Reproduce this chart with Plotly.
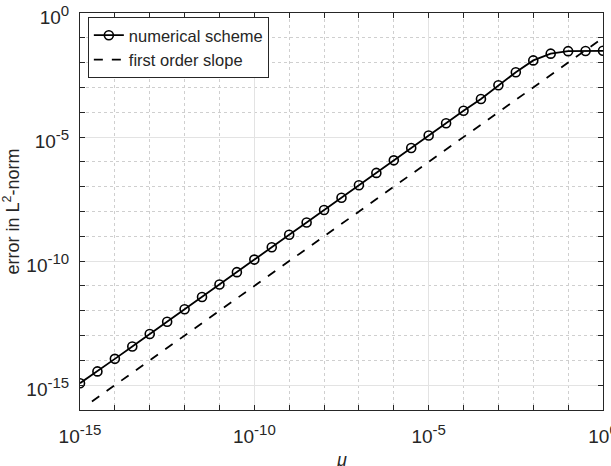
import plotly.graph_objects as go

# step size values (every half decade from 1e-15 to 1)
h = [1e-15, 3.16e-15, 1e-14, 3.16e-14, 1e-13, 3.16e-13, 1e-12, 3.16e-12,
     1e-11, 3.16e-11, 1e-10, 3.16e-10, 1e-9, 3.16e-9, 1e-8, 3.16e-8,
     1e-7, 3.16e-7, 1e-6, 3.16e-6, 1e-5, 3.16e-5, 1e-4, 3.16e-4,
     1e-3, 3.16e-3, 1e-2, 3.16e-2, 1e-1, 3.16e-1, 1.0]
err = [1.2e-15, 3.6e-15, 1.15e-14, 3.6e-14, 1.15e-13, 3.6e-13, 1.15e-12, 3.6e-12,
       1.15e-11, 3.6e-11, 1.15e-10, 3.6e-10, 1.15e-9, 3.6e-9, 1.15e-8, 3.6e-8,
       1.15e-7, 3.6e-7, 1.15e-6, 3.6e-6, 1.15e-5, 3.6e-5, 1.15e-4, 3.4e-4,
       1.23e-3, 4.1e-3, 1.23e-2, 2.3e-2, 2.9e-2, 2.95e-2, 3.0e-2]

slope_h = [2.2e-15, 1.0]
slope_err = [2.2e-16, 1e-1]

SUP = "<sup><span style='font-size:15px'>{}</span></sup>"
x_major = [1e-15, 1e-10, 1e-5, 1.0]
x_major_text = ["10" + SUP.format(e) for e in ["-15", "-10", "-5", "0"]]
y_major = [1e-15, 1e-10, 1e-5, 1.0]
y_major_text = ["10" + SUP.format(e) for e in ["-15", "-10", "-5", "0"]]
x_minor = [10.0 ** e for e in range(-15, 1)]
y_minor = [10.0 ** e for e in range(-16, 1)]

FONT = "Liberation Sans, Arial, sans-serif"
AX = "#262626"

fig = go.Figure()
fig.add_trace(go.Scatter(
    x=h, y=err, mode="lines+markers", name="numerical scheme",
    line=dict(color="black", width=1.8),
    marker=dict(symbol="circle-open", size=9, color="black", line=dict(width=1.6)),
))
fig.add_trace(go.Scatter(
    x=slope_h, y=slope_err, mode="lines", name="first order slope",
    line=dict(color="black", width=1.8, dash="dash"),
))

axis_common = dict(
    type="log", showline=True, linecolor=AX, linewidth=1, mirror="ticks",
    ticks="inside", ticklen=5, tickcolor=AX, tickwidth=1,
    showgrid=True, gridcolor="#e3e3e3", gridwidth=1, automargin=False,
    ticklabeloverflow="allow",
    zeroline=False, tickfont=dict(family=FONT, size=19, color=AX),
)

fig.update_xaxes(
    **axis_common,
    range=[-15, 0], tickmode="array", tickvals=x_major, ticktext=x_major_text,
    ticklabelstandoff=9,
    minor=dict(tickmode="array", tickvals=x_minor, ticks="inside", ticklen=5,
               tickcolor=AX, showgrid=True, gridcolor="#cfcfcf", griddash="dot"),
)
fig.update_yaxes(
    **axis_common,
    range=[-16, 0], tickmode="array", tickvals=y_major, ticktext=y_major_text,
    ticklabelstandoff=6, ticklabelshift=4,
    minor=dict(tickmode="array", tickvals=y_minor, ticks="inside", ticklen=5,
               tickcolor=AX, showgrid=True, gridcolor="#cfcfcf", griddash="dot"),
    title=dict(text="error in L<sup>2</sup>-norm", font=dict(family=FONT, size=18, color=AX), standoff=2),
)

# x-axis label (sits partly below the visible page, as in the original)
fig.add_annotation(
    text="<i>μ</i>", xref="paper", yref="paper", x=0.5, y=-0.125,
    xanchor="center", yanchor="middle", showarrow=False,
    font=dict(family=FONT, size=18, color=AX),
)

fig.update_layout(
    width=611, height=466,
    margin=dict(l=80, r=8, t=13, b=56),
    plot_bgcolor="white", paper_bgcolor="white",
    font=dict(family=FONT, size=17, color=AX),
    legend=dict(
        x=0.015, y=0.99, xanchor="left", yanchor="top",
        bgcolor="white", bordercolor=AX, borderwidth=1,
        font=dict(family=FONT, size=16.5, color=AX),
        tracegroupgap=0, itemwidth=30,
    ),
    showlegend=True,
)

fig.write_html("out.html")
